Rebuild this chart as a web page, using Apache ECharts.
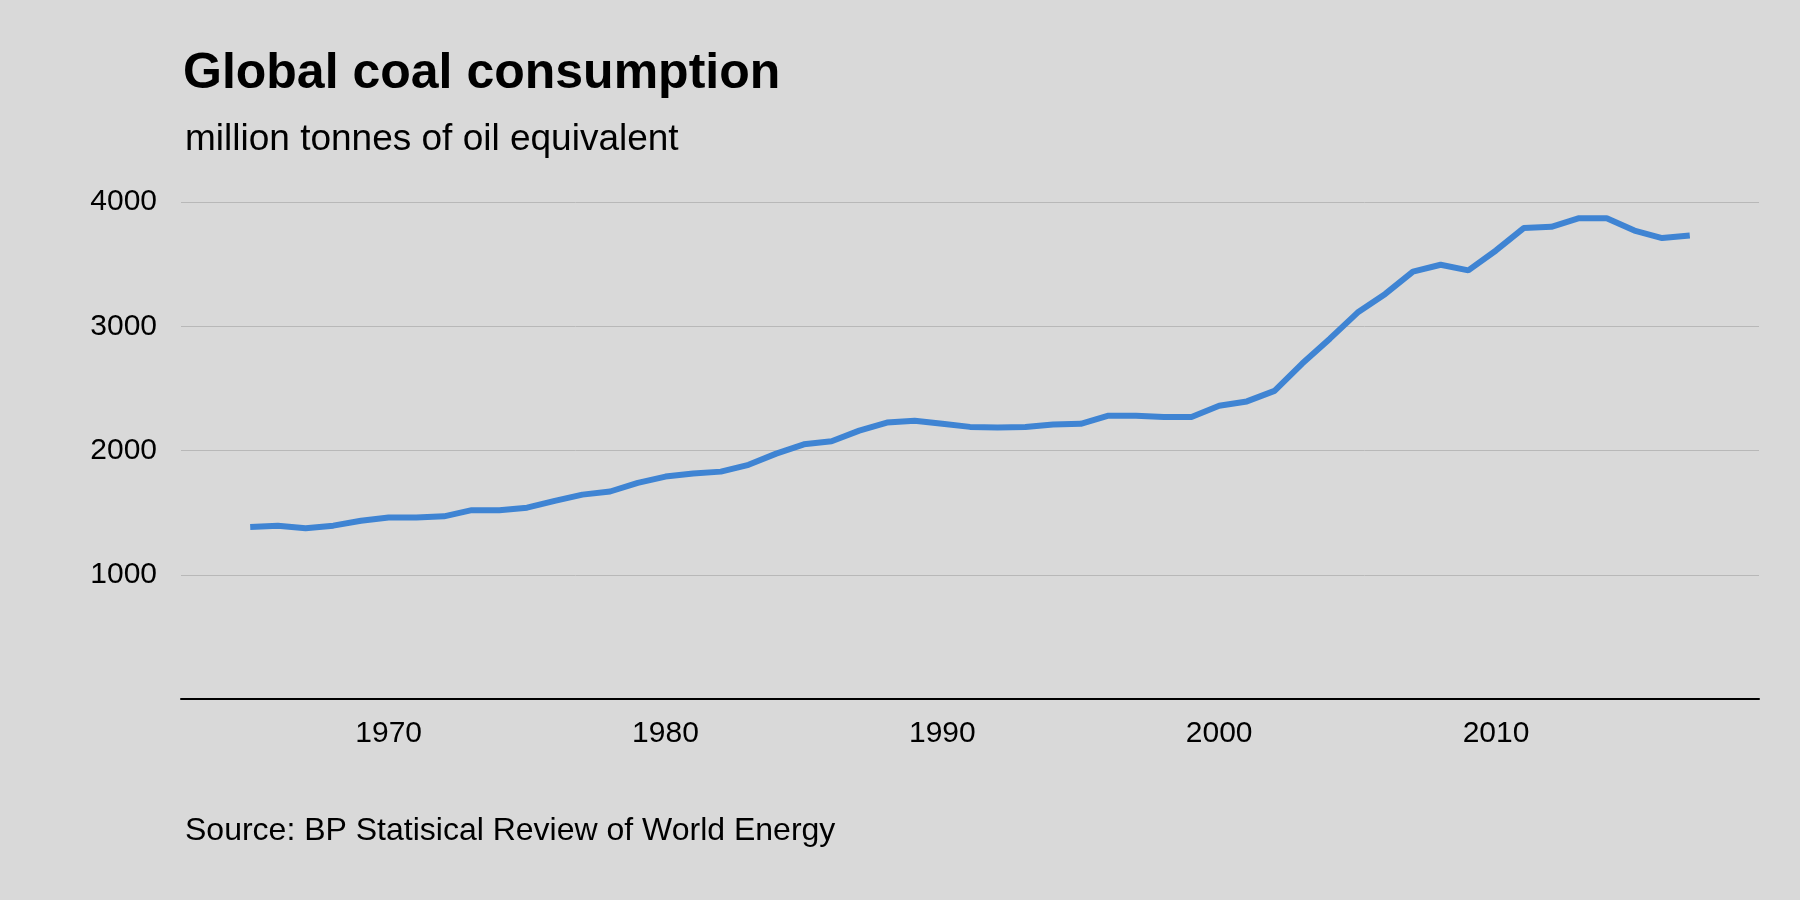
<!DOCTYPE html>
<html>
<head>
<meta charset="utf-8">
<script src="https://cdn.jsdelivr.net/npm/echarts@6/dist/echarts.min.js"></script>
<style>
html,body{margin:0;padding:0;background:#d9d9d9;}
#chart{width:1800px;height:900px;}
</style>
</head>
<body>
<div id="chart"></div>
<script>
// years shown on the axis (1963..2019), data runs 1965..2017
var years = [];
for (var y = 1963; y <= 2019; y++) years.push(String(y));
var dataYears = [1965,1966,1967,1968,1969,1970,1971,1972,1973,1974,1975,1976,1977,1978,1979,1980,1981,1982,1983,1984,1985,1986,1987,1988,1989,1990,1991,1992,1993,1994,1995,1996,1997,1998,1999,2000,2001,2002,2003,2004,2005,2006,2007,2008,2009,2010,2011,2012,2013,2014,2015,2016,2017];
var coal = [1385,1395,1375,1395,1435,1460,1460,1470,1520,1520,1540,1595,1645,1670,1740,1790,1815,1830,1885,1975,2050,2075,2160,2225,2240,2215,2190,2185,2190,2210,2215,2280,2280,2270,2270,2360,2395,2480,2700,2900,3110,3260,3440,3495,3450,3610,3790,3800,3870,3870,3770,3710,3730];
var yTicks = [1000, 2000, 3000, 4000];

var series = years.map(function(y){
    var i = dataYears.indexOf(+y);
    return i < 0 ? '-' : coal[i];
});

var font = 'Liberation Sans, Arial, sans-serif';
var option = {
    backgroundColor: '#d9d9d9',
    textStyle: {fontFamily: font},
    title: [
        {text: 'Global coal consumption', left: 178, top: 44,
         textStyle: {fontSize: 50, fontWeight: 'bold', color: '#000', fontFamily: font}},
        {text: 'million tonnes of oil equivalent', left: 180, top: 116,
         textStyle: {fontSize: 37, fontWeight: 'normal', color: '#000', fontFamily: font}},
        {text: 'Source: BP Statisical Review of World Energy', left: 180, top: 810,
         textStyle: {fontSize: 32, fontWeight: 'normal', color: '#000', fontFamily: font}}
    ],
    grid: {left: 181, right: 41, top: 202, bottom: 201},
    xAxis: {
        type: 'category', data: years, boundaryGap: true,
        axisLine: {lineStyle: {color: '#000', width: 2}},
        axisTick: {length: 14, alignWithLabel: true, lineStyle: {color: '#000', width: 2},
                   interval: function(i, v){ return +v % 10 === 0; }},
        axisLabel: {fontSize: 30, color: '#000', margin: 20,
                    interval: function(i, v){ return +v % 10 === 0; }},
        splitLine: {show: false}
    },
    yAxis: {
        type: 'value', min: 0, max: 4000, interval: 1000,
        axisLine: {show: false}, axisTick: {show: false},
        axisLabel: {fontSize: 30, color: '#000', margin: 24,
                    formatter: function(v){ return yTicks.indexOf(v) >= 0 ? v : ''; }},
        splitLine: {lineStyle: {color: '#b8b8b8', width: 1}}
    },
    series: [{
        type: 'line', data: series, showSymbol: false,
        lineStyle: {color: '#3f84d3', width: 6},
        itemStyle: {color: '#3f84d3'}
    }]
};
var myChart = echarts.init(document.getElementById('chart'));
myChart.setOption(option);
</script>
</body>
</html>
